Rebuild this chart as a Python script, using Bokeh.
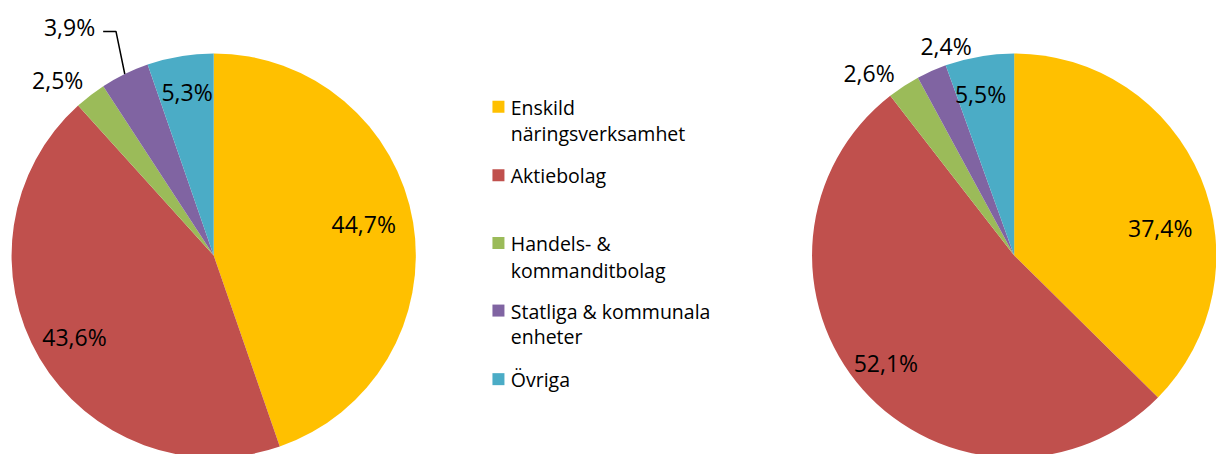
import math
from bokeh.plotting import figure
from bokeh.models import Range1d
from bokeh.core.properties import value
from bokeh.embed import file_html
from bokeh.resources import INLINE

# ---- data ----
categories = ["Enskild näringsverksamhet", "Aktiebolag", "Handels- & kommanditbolag",
              "Statliga & kommunala enheter", "Övriga"]
legend_lines = [["Enskild", "näringsverksamhet"], ["Aktiebolag"], ["Handels- &", "kommanditbolag"],
                ["Statliga & kommunala", "enheter"], ["Övriga"]]
left_values = [44.7, 43.6, 2.5, 3.9, 5.3]
right_values = [37.4, 52.1, 2.6, 2.4, 5.5]
colors = ["#FFC000", "#C0504D", "#9BBB59", "#8064A2", "#4BACC6"]

# ---- layout (reference pixel coords, mapped onto the figure) ----
W, H = 1216, 454
SX, SY = W / 1232.0, H / 470.0
def X(xs): return xs * SX
def Y(ys): return H - ys * SY

R = 207 * (SX + SY) / 2
left_center = (216, 264)
right_center = (1027, 264)
left_label_pos = [(368, 231), (75, 348), (58, 82), (70, 27), (189, 95)]
right_label_pos = [(1175, 236), (897, 375), (880, 75), (958, 47), (993, 97)]
legend_square_y = [110, 181, 251, 321, 392]
legend_text_y = [[111, 138], [181], [252, 279], [322, 348], [392]]
LABEL_FONT = "23px"
LEGEND_FONT = "19.5px"
FONT = value("Open Sans")

p = figure(width=W, height=H, x_range=Range1d(0, W), y_range=Range1d(0, H),
           output_backend="svg", toolbar_location=None, min_border=0,
           x_axis_type=None, y_axis_type=None)
p.grid.visible = False
p.outline_line_color = None
p.background_fill_color = "white"
p.border_fill_color = "white"


def draw_pie(values, center, label_pos):
    total = sum(values)
    cum = 0.0
    starts, ends, mids = [], [], []
    for v in values:
        c0 = cum / total
        cum += v
        c1 = cum / total
        starts.append(math.pi / 2 - 2 * math.pi * c1)
        ends.append(math.pi / 2 - 2 * math.pi * c0)
        mids.append(math.pi / 2 - 2 * math.pi * (c0 + c1) / 2)
    cx, cy = X(center[0]), Y(center[1])
    p.wedge(x=[cx] * len(values), y=[cy] * len(values), radius=R,
            start_angle=starts, end_angle=ends, direction="anticlock",
            fill_color=colors, line_color=None)
    texts = [("%.1f" % v).replace(".", ",") + "%" for v in values]
    p.text(x=[X(a) for a, b in label_pos], y=[Y(b) for a, b in label_pos], text=texts,
           text_align="center", text_baseline="middle", text_font=FONT,
           text_font_size=LABEL_FONT, text_color="#000000")
    return cx, cy, mids


draw_pie(right_values, right_center, right_label_pos)
cx, cy, mids = draw_pie(left_values, left_center, left_label_pos)

# leader line for the small 3,9% slice
ang = mids[3]
ex, ey = cx + R * math.cos(ang), cy + R * math.sin(ang)
p.line(x=[X(104), X(117), ex], y=[Y(32), Y(32), ey], line_color="black", line_width=1.5)

# legend
p.scatter(x=[X(504.5)] * len(categories), y=[Y(v) for v in legend_square_y],
          marker="square", size=12, fill_color=colors, line_color=None)
lx, ly, lt = [], [], []
for lines, ys in zip(legend_lines, legend_text_y):
    for t, yy in zip(lines, ys):
        lx.append(X(517))
        ly.append(Y(yy))
        lt.append(t)
p.text(x=lx, y=ly, text=lt, text_align="left", text_baseline="middle",
       text_font=FONT, text_font_size=LEGEND_FONT, text_color="#000000")

open("out.html", "w").write(file_html(p, INLINE))
